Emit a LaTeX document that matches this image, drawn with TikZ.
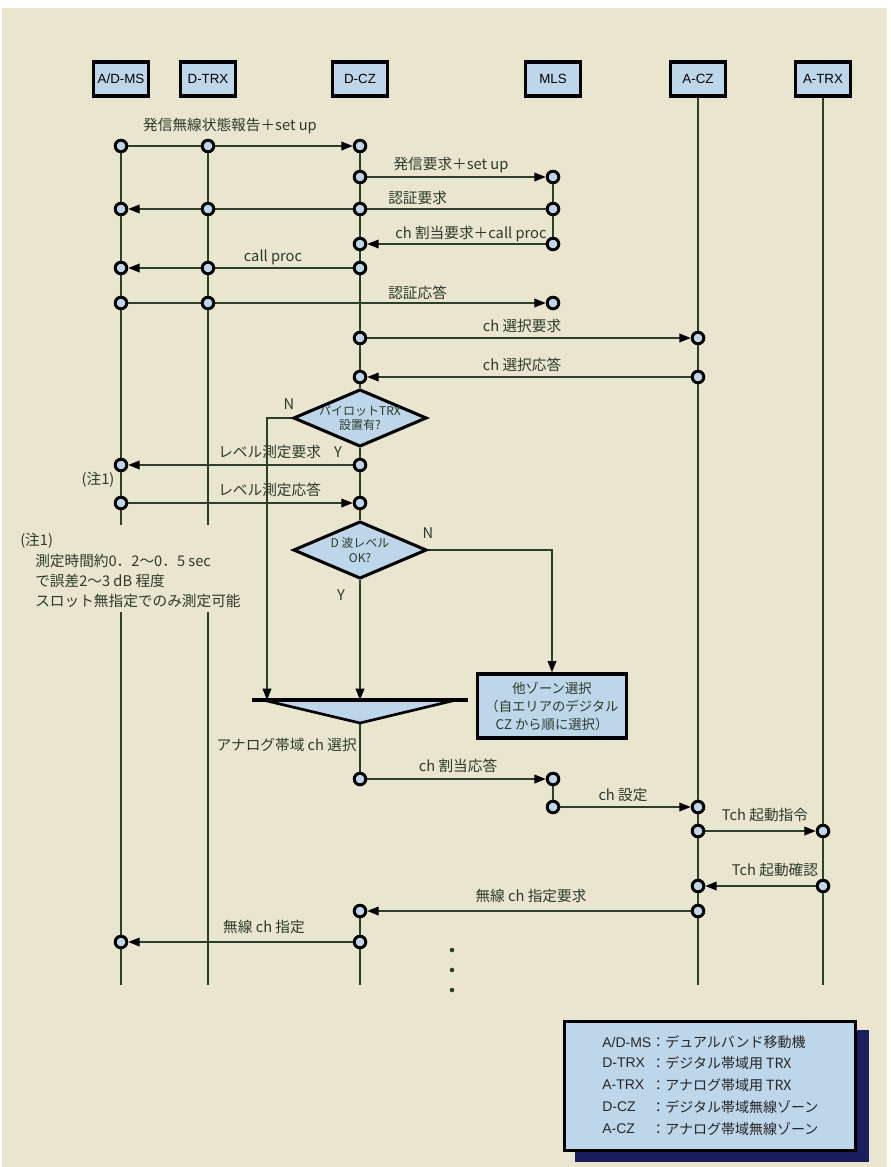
\documentclass[tikz,border=0pt]{standalone}
\usepackage{fontspec}
\setmainfont{Noto Sans CJK JP}
\newfontfamily\latf{Liberation Sans}
\usetikzlibrary{arrows.meta,shapes.geometric,positioning}
\definecolor{papc}{RGB}{233,229,207}
\definecolor{skyfill}{RGB}{190,214,234}
\definecolor{wirec}{RGB}{44,66,40}
\definecolor{txtc}{RGB}{44,58,40}
\definecolor{navyc}{RGB}{26,30,92}
\pgfdeclarelayer{paperlayer}
\pgfdeclarelayer{wirelayer}
\pgfsetlayers{paperlayer,wirelayer,main}
\tikzset{hbox/.style={rectangle,draw=black,line width=2.4pt,fill=skyfill,inner sep=0pt,minimum width=41pt,minimum height=25.5pt,font=\latf\fontsize{10}{12}\selectfont},
         dot/.style={circle,draw=black,line width=2.2pt,fill=skyfill,inner sep=0pt,minimum size=8.7pt},
         wire/.style={draw=wirec,line width=1.1pt},
         msg/.style={wire,-{Triangle[length=8.5pt,width=6.5pt,color=black]}},
         lab/.style={font=\fontsize{11}{13}\selectfont,text=txtc,inner sep=0pt},
         ask/.style={diamond,draw=black,line width=2.3pt,fill=skyfill,aspect=2.27,inner sep=-5pt,minimum width=100pt,minimum height=43pt,align=center,font=\fontsize{9}{11}\selectfont,text=txtc},
         zbox/.style={rectangle,draw=black,line width=2.5pt,fill=skyfill,inner sep=2pt,minimum width=112pt,minimum height=48pt,align=center,font=\fontsize{10}{13.5}\selectfont,text=txtc},
         keyl/.style={anchor=west,inner sep=0pt,font=\fontsize{10.5}{12}\selectfont,text=black!85}}

\begin{document}
\begin{tikzpicture}[x=0.75pt,y=-0.75pt]
  \useasboundingbox (0,0) rectangle (891,1167);
  \begin{pgfonlayer}{paperlayer}
    \fill[papc] (2,8) rectangle (887,1167);
  \end{pgfonlayer}

  % lifeline heads
  \node[hbox] (hms) at (121,79) {A/D-MS};
  \node[hbox] (htrx) at (208,79) {D-TRX};
  \node[hbox] (hdcz) at (360,79) {D-CZ};
  \node[hbox] (hmls) at (553,79) {MLS};
  \node[hbox] (hacz) at (698,79) {A-CZ};
  \node[hbox] (hatrx) at (823,79) {A-TRX};

  % message points
  \foreach \n/\x/\y in {ms1/121/146,trx1/208/146,dcz1/360/146,
                        dcz2/360/177,mls2/553/177,
                        ms3/121/209,trx3/208/209,dcz3/360/209,mls3/553/209,
                        dcz4/360/244,mls4/553/244,
                        ms5/121/268,trx5/208/268,dcz5/360/268,
                        ms6/121/303,trx6/208/303,mls6/553/303,
                        dcz7/360/338,acz7/698/338,
                        dcz8/360/377,acz8/698/377,
                        ms9/121/465,dcz9/360/465,
                        ms10/121/503,dcz10/360/503,
                        dcz11/360/779,mls11/553/779,
                        mls12/553/807,acz12/698/807,
                        acz13/698/831,atrx13/823/831,
                        acz14/698/886,atrx14/823/886,
                        dcz15/360/911,acz15/698/911,
                        ms16/121/942,dcz16/360/942}
    \node[dot] (\n) at (\x,\y) {};

  % decisions
  \node[ask] (q1) at (360,418) {パイロットTRX\\設置有?};
  \node[ask] (q2) at (360,550) {D 波レベル\\OK?};
  \node[zbox] (zone) at (552,706) {他ゾーン選択\\（自エリアのデジタル\\CZ から順に選択）};

  % merge
  \coordinate (mgl) at (252,700);
  \coordinate (mgr) at (468,700);
  \coordinate (mgtip) at (360,723);
  \coordinate (n1end) at (267,700);
  \filldraw[fill=skyfill,draw=black,line width=2pt,line join=round] (263,700) -- (mgtip) -- (456,700) -- cycle;
  \draw[line width=2.6pt] (mgl) -- (mgr);

  % lifeline ends
  \coordinate (msgap) at (121,525);  \coordinate (msres) at (121,612);  \coordinate (msend) at (121,985);
  \coordinate (trxgap) at (208,525); \coordinate (trxres) at (208,612); \coordinate (trxend) at (208,985);
  \coordinate (dczend) at (360,985);
  \coordinate (aczend) at (698,985);
  \coordinate (atrxend) at (823,985);

  \begin{pgfonlayer}{wirelayer}
    \draw[wire] (ms1) -- (msgap) (msres) -- (msend);
    \draw[wire] (trx1) -- (trxgap) (trxres) -- (trxend);
    \draw[wire] (dcz1) -- (q1) (q1) -- (q2);
    \draw[wire] (mgtip) -- (dcz11) (dcz15) -- (dczend);
    \draw[wire] (mls2) -- (mls4) (mls11) -- (mls12);
    \draw[wire] (hacz) -- (aczend);
    \draw[wire] (hatrx) -- (atrxend);
    \draw[msg] (q2) -- (mgtip |- mgl);
    \draw[msg] (q1.west) -| (n1end);
    \draw[msg] (q2.east) -| (zone.north);
    \foreach \a/\b in {ms1/dcz1,dcz2/mls2,mls3/ms3,mls4/dcz4,dcz5/ms5,ms6/mls6,dcz7/acz7,acz8/dcz8,
                       dcz9/ms9,ms10/dcz10,dcz11/mls11,mls12/acz12,acz13/atrx13,atrx14/acz14,acz15/dcz15,dcz16/ms16}
      \draw[msg] (\a) -- (\b);
  \end{pgfonlayer}

  % message texts
  \node[lab] (l1) at (230,126) {発信無線状態報告＋set up};
  \node[lab] (l2) at (451,165) {発信要求＋set up};
  \node[lab,anchor=west] (l3) at (388,198) {認証要求};
  \node[lab] (l4) at (471,234) {ch 割当要求＋call proc};
  \node[lab] (l5) at (273,257) {call proc};
  \node[lab,anchor=west] (l6) at (388,293) {認証応答};
  \node[lab] (l7) at (522,326) {ch 選択要求};
  \node[lab] (l8) at (522,365) {ch 選択応答};
  \node[lab,anchor=west] (l9) at (218,452) {レベル測定要求};
  \node[lab,anchor=west] (l10) at (218,490) {レベル測定応答};
  \node[lab,anchor=east] (l11) at (357,745) {アナログ帯域 ch 選択};
  \node[lab] (l12) at (458,766) {ch 割当応答};
  \node[lab] (l13) at (623,795) {ch 設定};
  \node[lab] (l14) at (765,815) {Tch 起動指令};
  \node[lab] (l15) at (775,870) {Tch 起動確認};
  \node[lab] (l16) at (531,896) {無線 ch 指定要求};
  \node[lab] (l17) at (264,927) {無線 ch 指定};

  \node[lab] (n1) at (289,404) {N};
  \node[lab] (y1) at (338,452) {Y};
  \node[lab] (n2) at (428,533) {N};
  \node[lab] (y2) at (341,595) {Y};

  % note
  \node[lab] (mark1) at (98,480) {(注1)};
  \node[lab,anchor=west] (mark2) at (20,541) {(注1)};
  \node[lab,anchor=west] (notea) at (35,561) {測定時間約0．2～0．5 sec};
  \node[lab,anchor=west] (noteb) at (35,581) {で誤差2～3 dB 程度};
  \node[lab,anchor=west] (notec) at (35,601) {スロット無指定でのみ測定可能};

  \foreach \y in {950,970,990} \fill[txtc] (452,\y) circle (1.7pt);

  % legend
  \node[rectangle,draw=black,line width=2pt,fill=skyfill,minimum width=218pt,minimum height=97pt] (legend) at (710,1086) {};
  \begin{pgfonlayer}{wirelayer}
    \fill[navyc] ([shift={(12,10)}]legend.south west) rectangle ([shift={(12,10)}]legend.north east);
  \end{pgfonlayer}
  \node[keyl,font=\latf\fontsize{10.5}{12}\selectfont] (k1) at (602,1042) {A/D-MS};
  \node[keyl,font=\latf\fontsize{10.5}{12}\selectfont] (k2) at (602,1063) {D-TRX};
  \node[keyl,font=\latf\fontsize{10.5}{12}\selectfont] (k3) at (602,1085) {A-TRX};
  \node[keyl,font=\latf\fontsize{10.5}{12}\selectfont] (k4) at (602,1107) {D-CZ};
  \node[keyl,font=\latf\fontsize{10.5}{12}\selectfont] (k5) at (602,1129) {A-CZ};
  \node[keyl] (d1) at (651,1042) {：デュアルバンド移動機};
  \node[keyl] (d2) at (651,1063) {：デジタル帯域用 TRX};
  \node[keyl] (d3) at (651,1085) {：アナログ帯域用 TRX};
  \node[keyl] (d4) at (651,1107) {：デジタル帯域無線ゾーン};
  \node[keyl] (d5) at (651,1129) {：アナログ帯域無線ゾーン};
\end{tikzpicture}
\end{document}
